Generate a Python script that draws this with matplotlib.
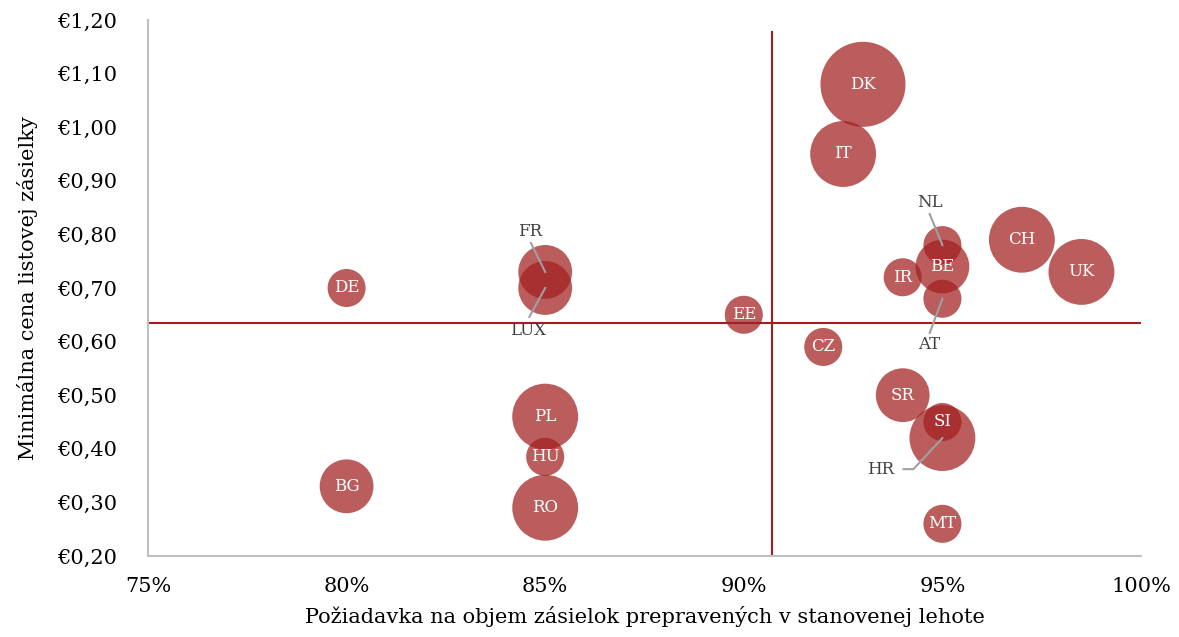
from matplotlib import pyplot
import matplotlib
import numpy as np

matplotlib.rcParams['font.family'] = 'DejaVu Serif'
matplotlib.rcParams['font.size'] = 14

####
# data

countries = ['DE', 'BG', 'FR', 'LUX', 'PL', 'HU', 'RO', 'EE', 'CZ', 'IT', 'DK',
             'IR', 'NL', 'BE', 'AT', 'SR', 'HR', 'SI', 'MT', 'CH', 'UK']
delivery_pct = [80, 80, 85, 85, 85, 85, 85, 90, 92, 92.5, 93,
                94, 95, 95, 95, 94, 95, 95, 95, 97, 98.5]
min_price = [0.70, 0.33, 0.73, 0.70, 0.46, 0.385, 0.29, 0.65, 0.59, 0.95, 1.08,
             0.72, 0.78, 0.74, 0.68, 0.50, 0.42, 0.45, 0.26, 0.79, 0.73]
bubble_w = [1, 2, 2, 2, 3, 1, 3, 1, 1, 3, 5,
            1, 1, 2, 1, 2, 3, 1, 1, 3, 3]

avg_pct = 90.7
avg_price = 0.635

xticks = [75, 80, 85, 90, 95, 100]
yticks = [0.20, 0.30, 0.40, 0.50, 0.60, 0.70, 0.80, 0.90, 1.00, 1.10, 1.20]

# labels placed outside the bubble: label position, then leader line points
outside = {
    'FR': ((84.62, 0.806), [(84.64, 0.784)]),
    'LUX': ((84.57, 0.620), [(84.6, 0.646)]),
    'NL': ((94.68, 0.859), [(94.68, 0.838)]),
    'AT': ((94.66, 0.594), [(94.68, 0.616)]),
    'HR': ((93.44, 0.362), [(94.02, 0.362), (94.27, 0.362)]),
}

BUBBLE_COL = (0.63, 0.12, 0.12)
LINE_COL = '#A31F1F'

############
#
# visualization
#
fig = pyplot.figure(figsize=(11.79, 6.37), dpi=100)
ax = fig.add_axes([0.1255, 0.1272, 0.8423, 0.8414])

ax.plot([avg_pct, avg_pct], [0.20, 1.178], c=LINE_COL, lw=1.5, zorder=1)
ax.plot([75.05, 100], [avg_price, avg_price], c=LINE_COL, lw=1.5, zorder=1)

ax.scatter(delivery_pct, min_price, s=np.array(bubble_w)*750,
           color=BUBBLE_COL, alpha=0.72, linewidths=0, zorder=2)

for i, c in enumerate(countries):
    x, y = delivery_pct[i], min_price[i]
    if c in outside:
        (lx, ly), pts = outside[c]
        px = [p[0] for p in pts] + [x]
        py = [p[1] for p in pts] + [y]
        ax.plot(px, py, c='#A0A0A0', lw=1.5, zorder=3)
        ax.text(lx, ly, c, ha='center', va='center', fontsize=12,
                color='#404040', zorder=4)
    else:
        ax.text(x, y, c, ha='center', va='center', fontsize=12,
                color='white', zorder=4)

ax.set_xlim(75, 100)
ax.set_ylim(0.20, 1.20)
ax.set_xticks(xticks)
ax.set_xticklabels(['%d%%' % t for t in xticks])
ax.set_yticks(yticks)
ax.set_yticklabels([('€%.2f' % t).replace('.', ',') for t in yticks])
ax.tick_params(length=0, labelsize=15)
ax.tick_params(axis='x', pad=15)
ax.tick_params(axis='y', pad=22)

for s in ['top', 'right']:
    ax.spines[s].set_visible(False)
for s in ['left', 'bottom']:
    ax.spines[s].set_color('#BFBFBF')
    ax.spines[s].set_linewidth(1.5)

ax.set_xlabel('Požiadavka na objem zásielok prepravených v stanovenej lehote',
              fontsize=15, labelpad=7)
ax.set_ylabel('Minimálna cena listovej zásielky', fontsize=15, labelpad=14)

fig.savefig('out.png', dpi=100)
